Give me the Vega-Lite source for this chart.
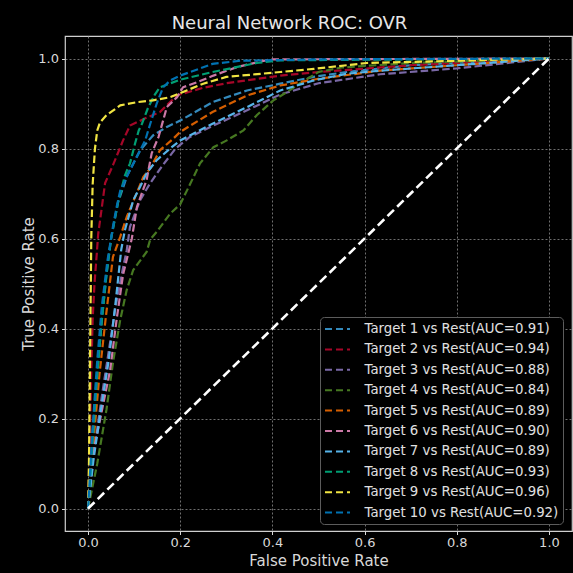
{
  "$schema": "https://vega.github.io/schema/vega-lite/v6.json",
  "width": 507,
  "height": 495,
  "autosize": "none",
  "padding": {"left": 65, "top": 36, "right": 1, "bottom": 42},
  "background": "#000000",
  "title": {
    "text": "Neural Network ROC: OVR",
    "fontSize": 18,
    "font": "DejaVu Sans",
    "fontWeight": "normal",
    "color": "#e6e6e6",
    "baseline": "alphabetic",
    "offset": -10.5,
    "dx": -29
  },
  "config": {
    "font": "DejaVu Sans",
    "view": {"stroke": "#cfcfcf", "strokeWidth": 1.2, "fill": "#000000"},
    "axis": {
      "domain": false,
      "grid": true,
      "gridColor": "#8c8c8c",
      "gridDash": [2, 2],
      "gridWidth": 0.8,
      "tickColor": "#d8d8d8",
      "tickSize": 3.5,
      "labelColor": "#d8d8d8",
      "labelFontSize": 13,
      "labelFont": "DejaVu Sans",
      "titleColor": "#d8d8d8",
      "titleFontSize": 15,
      "titleFont": "DejaVu Sans",
      "titleFontWeight": "normal"
    },
    "legend": {
      "orient": "none",
      "legendX": 255,
      "legendY": 281,
      "fillColor": "#000000",
      "strokeColor": "#5c5c5c",
      "cornerRadius": 4,
      "padding": 4.5,
      "labelColor": "#e0e0e0",
      "labelFontSize": 13.3,
      "labelFont": "DejaVu Sans",
      "labelLimit": 400,
      "symbolType": "M-2,0H2",
      "symbolStrokeWidth": 2,
      "symbolSize": 156.25,
      "symbolDash": [7, 4],
      "symbolOffset": 5.5,
      "labelOffset": 19.5,
      "rowPadding": 6.4
    }
  },
  "datasets": {
    "roc": [
      {"t": "Target 1 vs Rest(AUC=0.91)", "fpr": 0, "tpr": 0},
      {"t": "Target 1 vs Rest(AUC=0.91)", "fpr": 0.01, "tpr": 0.17},
      {"t": "Target 1 vs Rest(AUC=0.91)", "fpr": 0.02, "tpr": 0.3},
      {"t": "Target 1 vs Rest(AUC=0.91)", "fpr": 0.03, "tpr": 0.42},
      {"t": "Target 1 vs Rest(AUC=0.91)", "fpr": 0.04, "tpr": 0.52},
      {"t": "Target 1 vs Rest(AUC=0.91)", "fpr": 0.05, "tpr": 0.6},
      {"t": "Target 1 vs Rest(AUC=0.91)", "fpr": 0.065, "tpr": 0.68},
      {"t": "Target 1 vs Rest(AUC=0.91)", "fpr": 0.085, "tpr": 0.74},
      {"t": "Target 1 vs Rest(AUC=0.91)", "fpr": 0.1, "tpr": 0.77},
      {"t": "Target 1 vs Rest(AUC=0.91)", "fpr": 0.113, "tpr": 0.796},
      {"t": "Target 1 vs Rest(AUC=0.91)", "fpr": 0.141, "tpr": 0.829},
      {"t": "Target 1 vs Rest(AUC=0.91)", "fpr": 0.171, "tpr": 0.848},
      {"t": "Target 1 vs Rest(AUC=0.91)", "fpr": 0.2, "tpr": 0.862},
      {"t": "Target 1 vs Rest(AUC=0.91)", "fpr": 0.27, "tpr": 0.903},
      {"t": "Target 1 vs Rest(AUC=0.91)", "fpr": 0.345, "tpr": 0.929},
      {"t": "Target 1 vs Rest(AUC=0.91)", "fpr": 0.417, "tpr": 0.944},
      {"t": "Target 1 vs Rest(AUC=0.91)", "fpr": 0.489, "tpr": 0.959},
      {"t": "Target 1 vs Rest(AUC=0.91)", "fpr": 0.56, "tpr": 0.97},
      {"t": "Target 1 vs Rest(AUC=0.91)", "fpr": 0.7, "tpr": 0.985},
      {"t": "Target 1 vs Rest(AUC=0.91)", "fpr": 0.85, "tpr": 0.993},
      {"t": "Target 1 vs Rest(AUC=0.91)", "fpr": 1, "tpr": 1},

      {"t": "Target 2 vs Rest(AUC=0.94)", "fpr": 0, "tpr": 0},
      {"t": "Target 2 vs Rest(AUC=0.94)", "fpr": 0.004, "tpr": 0.15},
      {"t": "Target 2 vs Rest(AUC=0.94)", "fpr": 0.007, "tpr": 0.3},
      {"t": "Target 2 vs Rest(AUC=0.94)", "fpr": 0.01, "tpr": 0.42},
      {"t": "Target 2 vs Rest(AUC=0.94)", "fpr": 0.014, "tpr": 0.5},
      {"t": "Target 2 vs Rest(AUC=0.94)", "fpr": 0.019, "tpr": 0.567},
      {"t": "Target 2 vs Rest(AUC=0.94)", "fpr": 0.022, "tpr": 0.61},
      {"t": "Target 2 vs Rest(AUC=0.94)", "fpr": 0.03, "tpr": 0.67},
      {"t": "Target 2 vs Rest(AUC=0.94)", "fpr": 0.037, "tpr": 0.723},
      {"t": "Target 2 vs Rest(AUC=0.94)", "fpr": 0.054, "tpr": 0.763},
      {"t": "Target 2 vs Rest(AUC=0.94)", "fpr": 0.076, "tpr": 0.818},
      {"t": "Target 2 vs Rest(AUC=0.94)", "fpr": 0.091, "tpr": 0.851},
      {"t": "Target 2 vs Rest(AUC=0.94)", "fpr": 0.124, "tpr": 0.867},
      {"t": "Target 2 vs Rest(AUC=0.94)", "fpr": 0.156, "tpr": 0.881},
      {"t": "Target 2 vs Rest(AUC=0.94)", "fpr": 0.178, "tpr": 0.903},
      {"t": "Target 2 vs Rest(AUC=0.94)", "fpr": 0.193, "tpr": 0.918},
      {"t": "Target 2 vs Rest(AUC=0.94)", "fpr": 0.25, "tpr": 0.935},
      {"t": "Target 2 vs Rest(AUC=0.94)", "fpr": 0.3, "tpr": 0.945},
      {"t": "Target 2 vs Rest(AUC=0.94)", "fpr": 0.417, "tpr": 0.962},
      {"t": "Target 2 vs Rest(AUC=0.94)", "fpr": 0.5, "tpr": 0.97},
      {"t": "Target 2 vs Rest(AUC=0.94)", "fpr": 0.7, "tpr": 0.985},
      {"t": "Target 2 vs Rest(AUC=0.94)", "fpr": 1, "tpr": 1},

      {"t": "Target 3 vs Rest(AUC=0.88)", "fpr": 0, "tpr": 0},
      {"t": "Target 3 vs Rest(AUC=0.88)", "fpr": 0.012, "tpr": 0.12},
      {"t": "Target 3 vs Rest(AUC=0.88)", "fpr": 0.03, "tpr": 0.25},
      {"t": "Target 3 vs Rest(AUC=0.88)", "fpr": 0.045, "tpr": 0.35},
      {"t": "Target 3 vs Rest(AUC=0.88)", "fpr": 0.06, "tpr": 0.45},
      {"t": "Target 3 vs Rest(AUC=0.88)", "fpr": 0.075, "tpr": 0.53},
      {"t": "Target 3 vs Rest(AUC=0.88)", "fpr": 0.084, "tpr": 0.574},
      {"t": "Target 3 vs Rest(AUC=0.88)", "fpr": 0.091, "tpr": 0.626},
      {"t": "Target 3 vs Rest(AUC=0.88)", "fpr": 0.102, "tpr": 0.656},
      {"t": "Target 3 vs Rest(AUC=0.88)", "fpr": 0.113, "tpr": 0.685},
      {"t": "Target 3 vs Rest(AUC=0.88)", "fpr": 0.133, "tpr": 0.72},
      {"t": "Target 3 vs Rest(AUC=0.88)", "fpr": 0.16, "tpr": 0.76},
      {"t": "Target 3 vs Rest(AUC=0.88)", "fpr": 0.19, "tpr": 0.8},
      {"t": "Target 3 vs Rest(AUC=0.88)", "fpr": 0.22, "tpr": 0.825},
      {"t": "Target 3 vs Rest(AUC=0.88)", "fpr": 0.27, "tpr": 0.85},
      {"t": "Target 3 vs Rest(AUC=0.88)", "fpr": 0.345, "tpr": 0.885},
      {"t": "Target 3 vs Rest(AUC=0.88)", "fpr": 0.417, "tpr": 0.92},
      {"t": "Target 3 vs Rest(AUC=0.88)", "fpr": 0.5, "tpr": 0.945},
      {"t": "Target 3 vs Rest(AUC=0.88)", "fpr": 0.634, "tpr": 0.965},
      {"t": "Target 3 vs Rest(AUC=0.88)", "fpr": 0.8, "tpr": 0.978},
      {"t": "Target 3 vs Rest(AUC=0.88)", "fpr": 1, "tpr": 1},

      {"t": "Target 4 vs Rest(AUC=0.84)", "fpr": 0, "tpr": 0},
      {"t": "Target 4 vs Rest(AUC=0.84)", "fpr": 0.02, "tpr": 0.1},
      {"t": "Target 4 vs Rest(AUC=0.84)", "fpr": 0.04, "tpr": 0.22},
      {"t": "Target 4 vs Rest(AUC=0.84)", "fpr": 0.055, "tpr": 0.33},
      {"t": "Target 4 vs Rest(AUC=0.84)", "fpr": 0.07, "tpr": 0.42},
      {"t": "Target 4 vs Rest(AUC=0.84)", "fpr": 0.084, "tpr": 0.486},
      {"t": "Target 4 vs Rest(AUC=0.84)", "fpr": 0.098, "tpr": 0.53},
      {"t": "Target 4 vs Rest(AUC=0.84)", "fpr": 0.127, "tpr": 0.57},
      {"t": "Target 4 vs Rest(AUC=0.84)", "fpr": 0.135, "tpr": 0.598},
      {"t": "Target 4 vs Rest(AUC=0.84)", "fpr": 0.149, "tpr": 0.615},
      {"t": "Target 4 vs Rest(AUC=0.84)", "fpr": 0.178, "tpr": 0.655},
      {"t": "Target 4 vs Rest(AUC=0.84)", "fpr": 0.2, "tpr": 0.676},
      {"t": "Target 4 vs Rest(AUC=0.84)", "fpr": 0.221, "tpr": 0.72},
      {"t": "Target 4 vs Rest(AUC=0.84)", "fpr": 0.243, "tpr": 0.767},
      {"t": "Target 4 vs Rest(AUC=0.84)", "fpr": 0.272, "tpr": 0.803},
      {"t": "Target 4 vs Rest(AUC=0.84)", "fpr": 0.301, "tpr": 0.818},
      {"t": "Target 4 vs Rest(AUC=0.84)", "fpr": 0.337, "tpr": 0.84},
      {"t": "Target 4 vs Rest(AUC=0.84)", "fpr": 0.366, "tpr": 0.874},
      {"t": "Target 4 vs Rest(AUC=0.84)", "fpr": 0.402, "tpr": 0.907},
      {"t": "Target 4 vs Rest(AUC=0.84)", "fpr": 0.431, "tpr": 0.925},
      {"t": "Target 4 vs Rest(AUC=0.84)", "fpr": 0.46, "tpr": 0.945},
      {"t": "Target 4 vs Rest(AUC=0.84)", "fpr": 0.5, "tpr": 0.97},
      {"t": "Target 4 vs Rest(AUC=0.84)", "fpr": 0.55, "tpr": 0.98},
      {"t": "Target 4 vs Rest(AUC=0.84)", "fpr": 0.7, "tpr": 0.99},
      {"t": "Target 4 vs Rest(AUC=0.84)", "fpr": 1, "tpr": 1},

      {"t": "Target 5 vs Rest(AUC=0.89)", "fpr": 0, "tpr": 0},
      {"t": "Target 5 vs Rest(AUC=0.89)", "fpr": 0.012, "tpr": 0.15},
      {"t": "Target 5 vs Rest(AUC=0.89)", "fpr": 0.025, "tpr": 0.3},
      {"t": "Target 5 vs Rest(AUC=0.89)", "fpr": 0.038, "tpr": 0.42},
      {"t": "Target 5 vs Rest(AUC=0.89)", "fpr": 0.054, "tpr": 0.559},
      {"t": "Target 5 vs Rest(AUC=0.89)", "fpr": 0.07, "tpr": 0.604},
      {"t": "Target 5 vs Rest(AUC=0.89)", "fpr": 0.084, "tpr": 0.648},
      {"t": "Target 5 vs Rest(AUC=0.89)", "fpr": 0.102, "tpr": 0.692},
      {"t": "Target 5 vs Rest(AUC=0.89)", "fpr": 0.12, "tpr": 0.737},
      {"t": "Target 5 vs Rest(AUC=0.89)", "fpr": 0.135, "tpr": 0.756},
      {"t": "Target 5 vs Rest(AUC=0.89)", "fpr": 0.156, "tpr": 0.796},
      {"t": "Target 5 vs Rest(AUC=0.89)", "fpr": 0.185, "tpr": 0.822},
      {"t": "Target 5 vs Rest(AUC=0.89)", "fpr": 0.2, "tpr": 0.837},
      {"t": "Target 5 vs Rest(AUC=0.89)", "fpr": 0.27, "tpr": 0.881},
      {"t": "Target 5 vs Rest(AUC=0.89)", "fpr": 0.345, "tpr": 0.918},
      {"t": "Target 5 vs Rest(AUC=0.89)", "fpr": 0.417, "tpr": 0.94},
      {"t": "Target 5 vs Rest(AUC=0.89)", "fpr": 0.5, "tpr": 0.955},
      {"t": "Target 5 vs Rest(AUC=0.89)", "fpr": 0.634, "tpr": 0.973},
      {"t": "Target 5 vs Rest(AUC=0.89)", "fpr": 0.8, "tpr": 0.985},
      {"t": "Target 5 vs Rest(AUC=0.89)", "fpr": 1, "tpr": 1},

      {"t": "Target 6 vs Rest(AUC=0.90)", "fpr": 0, "tpr": 0},
      {"t": "Target 6 vs Rest(AUC=0.90)", "fpr": 0.011, "tpr": 0.124},
      {"t": "Target 6 vs Rest(AUC=0.90)", "fpr": 0.026, "tpr": 0.197},
      {"t": "Target 6 vs Rest(AUC=0.90)", "fpr": 0.048, "tpr": 0.308},
      {"t": "Target 6 vs Rest(AUC=0.90)", "fpr": 0.062, "tpr": 0.42},
      {"t": "Target 6 vs Rest(AUC=0.90)", "fpr": 0.076, "tpr": 0.52},
      {"t": "Target 6 vs Rest(AUC=0.90)", "fpr": 0.088, "tpr": 0.57},
      {"t": "Target 6 vs Rest(AUC=0.90)", "fpr": 0.095, "tpr": 0.6},
      {"t": "Target 6 vs Rest(AUC=0.90)", "fpr": 0.106, "tpr": 0.67},
      {"t": "Target 6 vs Rest(AUC=0.90)", "fpr": 0.127, "tpr": 0.73},
      {"t": "Target 6 vs Rest(AUC=0.90)", "fpr": 0.138, "tpr": 0.789},
      {"t": "Target 6 vs Rest(AUC=0.90)", "fpr": 0.153, "tpr": 0.826},
      {"t": "Target 6 vs Rest(AUC=0.90)", "fpr": 0.171, "tpr": 0.892},
      {"t": "Target 6 vs Rest(AUC=0.90)", "fpr": 0.193, "tpr": 0.914},
      {"t": "Target 6 vs Rest(AUC=0.90)", "fpr": 0.206, "tpr": 0.936},
      {"t": "Target 6 vs Rest(AUC=0.90)", "fpr": 0.236, "tpr": 0.947},
      {"t": "Target 6 vs Rest(AUC=0.90)", "fpr": 0.272, "tpr": 0.962},
      {"t": "Target 6 vs Rest(AUC=0.90)", "fpr": 0.323, "tpr": 0.981},
      {"t": "Target 6 vs Rest(AUC=0.90)", "fpr": 0.395, "tpr": 0.998},
      {"t": "Target 6 vs Rest(AUC=0.90)", "fpr": 1, "tpr": 1},

      {"t": "Target 7 vs Rest(AUC=0.89)", "fpr": 0, "tpr": 0},
      {"t": "Target 7 vs Rest(AUC=0.89)", "fpr": 0.012, "tpr": 0.11},
      {"t": "Target 7 vs Rest(AUC=0.89)", "fpr": 0.025, "tpr": 0.2},
      {"t": "Target 7 vs Rest(AUC=0.89)", "fpr": 0.045, "tpr": 0.33},
      {"t": "Target 7 vs Rest(AUC=0.89)", "fpr": 0.06, "tpr": 0.46},
      {"t": "Target 7 vs Rest(AUC=0.89)", "fpr": 0.072, "tpr": 0.575},
      {"t": "Target 7 vs Rest(AUC=0.89)", "fpr": 0.08, "tpr": 0.619},
      {"t": "Target 7 vs Rest(AUC=0.89)", "fpr": 0.088, "tpr": 0.648},
      {"t": "Target 7 vs Rest(AUC=0.89)", "fpr": 0.098, "tpr": 0.685},
      {"t": "Target 7 vs Rest(AUC=0.89)", "fpr": 0.113, "tpr": 0.715},
      {"t": "Target 7 vs Rest(AUC=0.89)", "fpr": 0.127, "tpr": 0.745},
      {"t": "Target 7 vs Rest(AUC=0.89)", "fpr": 0.149, "tpr": 0.774},
      {"t": "Target 7 vs Rest(AUC=0.89)", "fpr": 0.178, "tpr": 0.8},
      {"t": "Target 7 vs Rest(AUC=0.89)", "fpr": 0.2, "tpr": 0.818},
      {"t": "Target 7 vs Rest(AUC=0.89)", "fpr": 0.27, "tpr": 0.855},
      {"t": "Target 7 vs Rest(AUC=0.89)", "fpr": 0.345, "tpr": 0.892},
      {"t": "Target 7 vs Rest(AUC=0.89)", "fpr": 0.417, "tpr": 0.929},
      {"t": "Target 7 vs Rest(AUC=0.89)", "fpr": 0.489, "tpr": 0.951},
      {"t": "Target 7 vs Rest(AUC=0.89)", "fpr": 0.56, "tpr": 0.966},
      {"t": "Target 7 vs Rest(AUC=0.89)", "fpr": 0.634, "tpr": 0.973},
      {"t": "Target 7 vs Rest(AUC=0.89)", "fpr": 0.8, "tpr": 0.985},
      {"t": "Target 7 vs Rest(AUC=0.89)", "fpr": 1, "tpr": 1},

      {"t": "Target 8 vs Rest(AUC=0.93)", "fpr": 0, "tpr": 0},
      {"t": "Target 8 vs Rest(AUC=0.93)", "fpr": 0.01, "tpr": 0.15},
      {"t": "Target 8 vs Rest(AUC=0.93)", "fpr": 0.02, "tpr": 0.3},
      {"t": "Target 8 vs Rest(AUC=0.93)", "fpr": 0.03, "tpr": 0.42},
      {"t": "Target 8 vs Rest(AUC=0.93)", "fpr": 0.04, "tpr": 0.52},
      {"t": "Target 8 vs Rest(AUC=0.93)", "fpr": 0.05, "tpr": 0.6},
      {"t": "Target 8 vs Rest(AUC=0.93)", "fpr": 0.065, "tpr": 0.68},
      {"t": "Target 8 vs Rest(AUC=0.93)", "fpr": 0.08, "tpr": 0.74},
      {"t": "Target 8 vs Rest(AUC=0.93)", "fpr": 0.091, "tpr": 0.767},
      {"t": "Target 8 vs Rest(AUC=0.93)", "fpr": 0.102, "tpr": 0.811},
      {"t": "Target 8 vs Rest(AUC=0.93)", "fpr": 0.11, "tpr": 0.84},
      {"t": "Target 8 vs Rest(AUC=0.93)", "fpr": 0.117, "tpr": 0.855},
      {"t": "Target 8 vs Rest(AUC=0.93)", "fpr": 0.13, "tpr": 0.89},
      {"t": "Target 8 vs Rest(AUC=0.93)", "fpr": 0.145, "tpr": 0.92},
      {"t": "Target 8 vs Rest(AUC=0.93)", "fpr": 0.156, "tpr": 0.936},
      {"t": "Target 8 vs Rest(AUC=0.93)", "fpr": 0.2, "tpr": 0.953},
      {"t": "Target 8 vs Rest(AUC=0.93)", "fpr": 0.27, "tpr": 0.97},
      {"t": "Target 8 vs Rest(AUC=0.93)", "fpr": 0.366, "tpr": 0.99},
      {"t": "Target 8 vs Rest(AUC=0.93)", "fpr": 0.417, "tpr": 0.996},
      {"t": "Target 8 vs Rest(AUC=0.93)", "fpr": 1, "tpr": 1},

      {"t": "Target 9 vs Rest(AUC=0.96)", "fpr": 0, "tpr": 0},
      {"t": "Target 9 vs Rest(AUC=0.96)", "fpr": 0.002, "tpr": 0.1},
      {"t": "Target 9 vs Rest(AUC=0.96)", "fpr": 0.004, "tpr": 0.3},
      {"t": "Target 9 vs Rest(AUC=0.96)", "fpr": 0.006, "tpr": 0.5},
      {"t": "Target 9 vs Rest(AUC=0.96)", "fpr": 0.007, "tpr": 0.6},
      {"t": "Target 9 vs Rest(AUC=0.96)", "fpr": 0.01, "tpr": 0.72},
      {"t": "Target 9 vs Rest(AUC=0.96)", "fpr": 0.015, "tpr": 0.8},
      {"t": "Target 9 vs Rest(AUC=0.96)", "fpr": 0.02, "tpr": 0.84},
      {"t": "Target 9 vs Rest(AUC=0.96)", "fpr": 0.026, "tpr": 0.858},
      {"t": "Target 9 vs Rest(AUC=0.96)", "fpr": 0.04, "tpr": 0.874},
      {"t": "Target 9 vs Rest(AUC=0.96)", "fpr": 0.07, "tpr": 0.896},
      {"t": "Target 9 vs Rest(AUC=0.96)", "fpr": 0.106, "tpr": 0.903},
      {"t": "Target 9 vs Rest(AUC=0.96)", "fpr": 0.141, "tpr": 0.907},
      {"t": "Target 9 vs Rest(AUC=0.96)", "fpr": 0.178, "tpr": 0.914},
      {"t": "Target 9 vs Rest(AUC=0.96)", "fpr": 0.214, "tpr": 0.929},
      {"t": "Target 9 vs Rest(AUC=0.96)", "fpr": 0.25, "tpr": 0.944},
      {"t": "Target 9 vs Rest(AUC=0.96)", "fpr": 0.3, "tpr": 0.959},
      {"t": "Target 9 vs Rest(AUC=0.96)", "fpr": 0.417, "tpr": 0.97},
      {"t": "Target 9 vs Rest(AUC=0.96)", "fpr": 0.49, "tpr": 0.977},
      {"t": "Target 9 vs Rest(AUC=0.96)", "fpr": 0.605, "tpr": 0.99},
      {"t": "Target 9 vs Rest(AUC=0.96)", "fpr": 0.8, "tpr": 0.995},
      {"t": "Target 9 vs Rest(AUC=0.96)", "fpr": 1, "tpr": 1},

      {"t": "Target 10 vs Rest(AUC=0.92)", "fpr": 0, "tpr": 0},
      {"t": "Target 10 vs Rest(AUC=0.92)", "fpr": 0.01, "tpr": 0.18},
      {"t": "Target 10 vs Rest(AUC=0.92)", "fpr": 0.02, "tpr": 0.33},
      {"t": "Target 10 vs Rest(AUC=0.92)", "fpr": 0.03, "tpr": 0.45},
      {"t": "Target 10 vs Rest(AUC=0.92)", "fpr": 0.042, "tpr": 0.55},
      {"t": "Target 10 vs Rest(AUC=0.92)", "fpr": 0.054, "tpr": 0.626},
      {"t": "Target 10 vs Rest(AUC=0.92)", "fpr": 0.062, "tpr": 0.67},
      {"t": "Target 10 vs Rest(AUC=0.92)", "fpr": 0.07, "tpr": 0.707},
      {"t": "Target 10 vs Rest(AUC=0.92)", "fpr": 0.09, "tpr": 0.75},
      {"t": "Target 10 vs Rest(AUC=0.92)", "fpr": 0.105, "tpr": 0.78},
      {"t": "Target 10 vs Rest(AUC=0.92)", "fpr": 0.124, "tpr": 0.818},
      {"t": "Target 10 vs Rest(AUC=0.92)", "fpr": 0.135, "tpr": 0.855},
      {"t": "Target 10 vs Rest(AUC=0.92)", "fpr": 0.149, "tpr": 0.9},
      {"t": "Target 10 vs Rest(AUC=0.92)", "fpr": 0.163, "tpr": 0.936},
      {"t": "Target 10 vs Rest(AUC=0.92)", "fpr": 0.178, "tpr": 0.951},
      {"t": "Target 10 vs Rest(AUC=0.92)", "fpr": 0.2, "tpr": 0.962},
      {"t": "Target 10 vs Rest(AUC=0.92)", "fpr": 0.27, "tpr": 0.988},
      {"t": "Target 10 vs Rest(AUC=0.92)", "fpr": 0.33, "tpr": 0.995},
      {"t": "Target 10 vs Rest(AUC=0.92)", "fpr": 0.5, "tpr": 0.998},
      {"t": "Target 10 vs Rest(AUC=0.92)", "fpr": 1, "tpr": 1}
    ],
    "chance": [
      {"fpr": 0, "tpr": 0},
      {"fpr": 1, "tpr": 1}
    ]
  },
  "encoding": {
    "x": {
      "field": "fpr",
      "type": "quantitative",
      "scale": {"domain": [-0.05, 1.05], "nice": false, "zero": false},
      "axis": {"values": [0, 0.2, 0.4, 0.6, 0.8, 1.0], "format": ".1f", "title": "False Positive Rate", "labelPadding": 2, "titlePadding": 4}
    },
    "y": {
      "field": "tpr",
      "type": "quantitative",
      "scale": {"domain": [-0.05, 1.05], "nice": false, "zero": false},
      "axis": {"values": [0, 0.2, 0.4, 0.6, 0.8, 1.0], "format": ".1f", "title": "True Positive Rate", "labelPadding": 3, "titlePadding": 1}
    }
  },
  "layer": [
    {
      "data": {"name": "roc"},
      "mark": {"type": "line", "strokeWidth": 2.2, "strokeDash": [7.5, 3.3], "clip": true},
      "encoding": {
        "color": {
          "field": "t",
          "type": "nominal",
          "title": null,
          "scale": {
            "domain": [
              "Target 1 vs Rest(AUC=0.91)",
              "Target 2 vs Rest(AUC=0.94)",
              "Target 3 vs Rest(AUC=0.88)",
              "Target 4 vs Rest(AUC=0.84)",
              "Target 5 vs Rest(AUC=0.89)",
              "Target 6 vs Rest(AUC=0.90)",
              "Target 7 vs Rest(AUC=0.89)",
              "Target 8 vs Rest(AUC=0.93)",
              "Target 9 vs Rest(AUC=0.96)",
              "Target 10 vs Rest(AUC=0.92)"
            ],
            "range": ["#348ABD", "#A60628", "#7A68A6", "#467821", "#D55E00", "#CC79A7", "#56B4E9", "#009E73", "#F0E442", "#0072B2"]
          }
        }
      }
    },
    {
      "data": {"name": "chance"},
      "mark": {"type": "line", "color": "#ffffff", "strokeWidth": 2.6, "strokeDash": [9, 4.5]},
      "encoding": {}
    }
  ]
}
